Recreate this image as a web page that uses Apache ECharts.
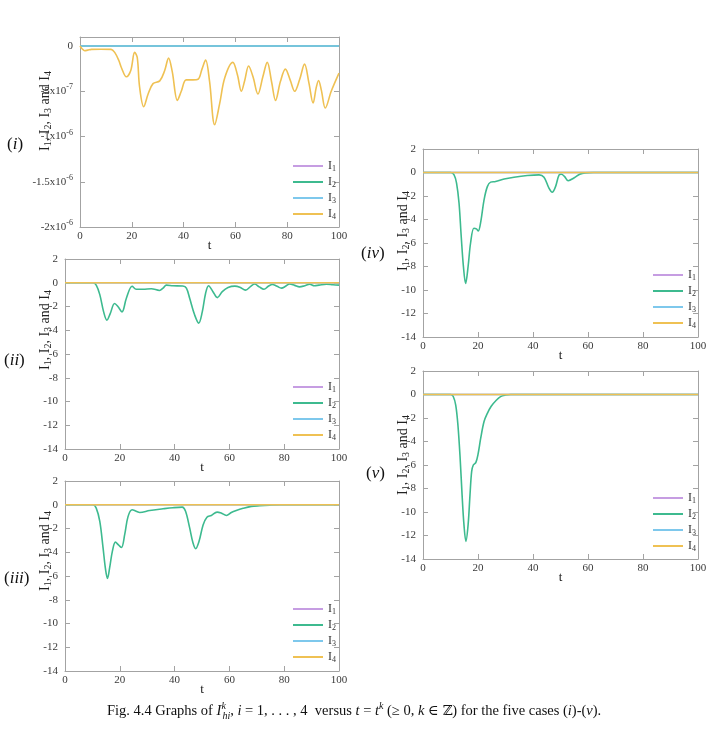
<!DOCTYPE html>
<html><head><meta charset="utf-8">
<script src="https://cdn.jsdelivr.net/npm/echarts@6/dist/echarts.min.js"></script>
<style>html,body{margin:0;padding:0;background:#fff}#c{width:714px;height:735px}</style>
</head><body><div id="c"></div>
<script>
// ---------- data ----------
const seriesNames = ['I1', 'I2', 'I3', 'I4'];
const xTicks = [0, 20, 40, 60, 80, 100];
const zeroT = [0, 100];
const zeroV = [0, 0];

// case (i): I4 (I1, I2, I3 stay at 0)
const case1T = [0, 0.8, 1.8, 3, 4.4, 8, 12, 13.4, 15, 16, 17.9, 19.6, 21.1, 22.1, 23, 24.6, 26.3, 28.2, 30.8, 32.7, 34.2, 35.6, 37.6, 39.1, 41, 43.6, 45.6, 47.1, 48.5, 50, 52, 53.9, 55.9, 59, 60.8, 62.3, 63.6, 65.1, 66.8, 68.7, 70.6, 72.3, 74, 75.5, 77.4, 79.3, 81.2, 82.9, 84.8, 86.7, 88.4, 90, 91.2, 92.1, 93.2, 94.7, 97, 100];
const case1I4 = [0, -0.3e-7, -0.52e-7, -0.45e-7, -0.37e-7, -0.35e-7, -0.37e-7, -0.7e-7, -1.6e-7, -2.4e-7, -3.4e-7, -2.7e-7, -0.7e-7, -1.26e-7, -4.5e-7, -6.7e-7, -5.3e-7, -4.15e-7, -3.85e-7, -2.7e-7, -1.33e-7, -2.8e-7, -6.0e-7, -5.0e-7, -3.74e-7, -3.74e-7, -3.67e-7, -2.55e-7, -1.55e-7, -3.85e-7, -8.7e-7, -6.4e-7, -3.5e-7, -1.8e-7, -3.2e-7, -5.0e-7, -3.8e-7, -2.2e-7, -3.4e-7, -5.3e-7, -3.4e-7, -1.8e-7, -4.0e-7, -6.0e-7, -3.9e-7, -2.55e-7, -3.8e-7, -5.0e-7, -3.7e-7, -2.0e-7, -4.1e-7, -6.3e-7, -4.6e-7, -3.8e-7, -4.9e-7, -6.85e-7, -5.0e-7, -3.0e-7];

// case (ii): I2
const case2T = [0, 10.2, 11.4, 12.7, 14.1, 15.3, 16.5, 18.1, 19.3, 20.8, 22.4, 24.5, 26, 28.5, 31.5, 34.5, 35.8, 37, 39.4, 43, 44.3, 45.5, 47.3, 48.8, 50.1, 51.3, 52.4, 54, 55.6, 57.4, 59.5, 62, 63.8, 65.9, 67.8, 69.2, 70.9, 72.6, 74.2, 75.7, 77.4, 79, 80.5, 82, 83.8, 85.6, 87.5, 89.3, 91, 92.7, 95.4, 97.8, 100];
const case2I2 = [0, 0, -0.2, -1.0, -2.45, -3.15, -2.6, -1.75, -2.0, -2.45, -1.3, -0.3, -0.55, -0.55, -0.5, -0.65, -0.45, -0.2, -0.25, -0.28, -0.45, -1.3, -2.7, -3.4, -2.45, -0.9, -0.25, -0.75, -1.25, -0.75, -0.4, -0.28, -0.37, -0.62, -0.3, -0.1, -0.35, -0.55, -0.3, -0.15, -0.3, -0.45, -0.3, -0.1, -0.22, -0.35, -0.25, -0.12, -0.25, -0.2, -0.12, -0.17, -0.2];

// case (iii): I2
const case3T = [0, 10.2, 11.4, 12.7, 13.9, 14.8, 15.5, 16.3, 17.3, 18.4, 19.6, 20.6, 21.8, 23, 24.5, 26, 27.3, 30.9, 35.8, 39.4, 42.8, 44, 45.5, 46.7, 47.7, 48.9, 50.4, 51.8, 53.4, 55.5, 57, 58.9, 60.7, 62.5, 65, 68, 71, 74.7, 78.3, 100];
const case3I2 = [0, 0, -0.28, -1.4, -3.65, -5.45, -6.2, -5.3, -3.9, -3.15, -3.4, -3.6, -2.5, -1.0, -0.42, -0.55, -0.65, -0.48, -0.34, -0.25, -0.2, -0.55, -1.95, -3.2, -3.7, -3.1, -1.7, -1.05, -0.9, -0.62, -0.7, -0.9, -0.65, -0.48, -0.3, -0.14, -0.08, -0.03, 0, 0];

// case (iv): I2
const case4T = [0, 10.1, 11.3, 12.2, 13.1, 13.9, 14.7, 15.5, 16.4, 17.3, 18.5, 19.4, 20.1, 21, 22.2, 23.4, 24.6, 26.4, 29.5, 33.1, 37.9, 42.2, 44, 45.8, 47, 48.2, 49.5, 50.3, 51.5, 52.8, 55, 57, 59, 62, 100];
const case4I2 = [0, 0, -0.2, -0.9, -2.6, -5.45, -8.0, -9.45, -8.0, -6.0, -4.75, -4.8, -4.97, -4.2, -2.33, -1.2, -0.82, -0.77, -0.55, -0.4, -0.26, -0.2, -0.4, -1.33, -1.68, -1.2, -0.2, -0.15, -0.35, -0.7, -0.45, -0.15, -0.03, 0, 0];

// case (v): I2
const case5T = [0, 10.1, 11, 11.9, 12.7, 13.5, 14.2, 14.9, 15.6, 16.4, 17.1, 17.7, 18.3, 19.2, 20, 21, 22.2, 23.4, 24.8, 26.4, 28.2, 30, 31.9, 100];
const case5I2 = [0, 0, -0.17, -0.9, -2.6, -5.4, -8.5, -11.1, -12.5, -11.1, -8.5, -6.55, -6.0, -5.8, -5.1, -3.7, -2.3, -1.6, -1.0, -0.55, -0.18, -0.05, 0, 0];

// tick labels for case (i)
const case1TickValues = [0, -5e-7, -1e-6, -1.5e-6, -2e-6];
const case1TickText = ['0', '-5x10{e|-7}', '-1x10{e|-6}', '-1.5x10{e|-6}', '-2x10{e|-6}'];

// ---------- styling ----------
const FONT = '"Liberation Serif","DejaVu Serif",serif';
const colors = {I1: '#c69de2', I2: '#3dba8f', I3: '#7ec8ec', I4: '#efc153'};
const FRAME = '#a3a3a3';
const TXT = '#3a3a3a';

function zip(t, v) { return t.map((x, i) => [x, v[i]]); }

const panels = [
  {grid: {left: 80, top: 37, width: 259, height: 190}, ymin: -2e-6, ymax: 1e-7, yint: 5e-7, sci: true,
   nameGap: 27, shift: 21, legend: {left: 293, top: 160},
   label: {it: 'i', left: 7, top: 136},
   data: {I1: [zeroT, zeroV], I2: [zeroT, zeroV], I3: [zeroT, zeroV], I4: [case1T, case1I4]}},
  {grid: {left: 65, top: 259, width: 274, height: 190}, ymin: -14, ymax: 2, yint: 2,
   nameGap: 12, shift: 24, legend: {left: 293, top: 381},
   label: {it: 'ii', left: 4, top: 352},
   data: {I1: [zeroT, zeroV], I2: [case2T, case2I2], I3: [zeroT, zeroV], I4: [zeroT, zeroV]}},
  {grid: {left: 65, top: 481, width: 274, height: 190}, ymin: -14, ymax: 2, yint: 2,
   nameGap: 12, shift: 25, legend: {left: 293, top: 603},
   label: {it: 'iii', left: 4, top: 570},
   data: {I1: [zeroT, zeroV], I2: [case3T, case3I2], I3: [zeroT, zeroV], I4: [zeroT, zeroV]}},
  {grid: {left: 423, top: 149, width: 275, height: 188}, ymin: -14, ymax: 2, yint: 2,
   nameGap: 12, shift: 12, legend: {left: 653, top: 269},
   label: {it: 'iv', left: 361, top: 245},
   data: {I1: [zeroT, zeroV], I2: [case4T, case4I2], I3: [zeroT, zeroV], I4: [zeroT, zeroV]}},
  {grid: {left: 423, top: 371, width: 275, height: 188}, ymin: -14, ymax: 2, yint: 2,
   nameGap: 12, shift: 10, legend: {left: 653, top: 492},
   label: {it: 'v', left: 366, top: 465},
   data: {I1: [zeroT, zeroV], I2: [case5T, case5I2], I3: [zeroT, zeroV], I4: [zeroT, zeroV]}}
];

const grids = [], xAxes = [], yAxes = [], series = [], legends = [], titles = [];
const richName = {
  i: {fontFamily: FONT, fontSize: 14, color: '#222', lineHeight: 16},
  c: {fontFamily: FONT, fontSize: 14, color: '#222', lineHeight: 16},
  s: {fontFamily: FONT, fontSize: 10, color: '#222', lineHeight: 10, verticalAlign: 'bottom'}
};
const yName = '{i|I}{s|1}{c|, }{i|I}{s|2}{c|, }{i|I}{s|3}{c| and }{i|I}{s|4}';

panels.forEach((p, k) => {
  grids.push(Object.assign({outerBoundsMode: 'none', containLabel: false}, p.grid));
  const lineCommon = {show: true, onZero: false, lineStyle: {color: FRAME, width: 1}};
  const tickCommon = {show: true, inside: true, length: 5, lineStyle: {color: FRAME, width: 1}};
  xAxes.push({gridIndex: k, type: 'value', min: 0, max: 100, interval: 20, position: 'bottom',
    axisLine: lineCommon, axisTick: tickCommon, splitLine: {show: false},
    axisLabel: {margin: 4, color: TXT, fontFamily: FONT, fontSize: 11},
    name: 't', nameLocation: 'middle', nameGap: 12, nameMoveOverlap: false,
    nameTextStyle: {fontFamily: FONT, fontSize: 13, color: '#222'}});
  xAxes.push({gridIndex: k, type: 'value', min: 0, max: 100, interval: 20, position: 'top',
    axisLine: lineCommon, axisTick: tickCommon, splitLine: {show: false}, axisLabel: {show: false}});
  const yLab = {margin: 7, color: TXT, fontFamily: FONT, fontSize: 11, showMaxLabel: !p.sci};
  if (p.sci) {
    yLab.lineHeight = 16;
    yLab.formatter = v => {
      let best = 0;
      case1TickValues.forEach((tv, i) => { if (Math.abs(tv - v) < Math.abs(case1TickValues[best] - v)) best = i; });
      return case1TickText[best];
    };
    yLab.rich = {e: {fontFamily: FONT, fontSize: 8, color: TXT, lineHeight: 8, verticalAlign: 'top'}};
  }
  yAxes.push({gridIndex: k, type: 'value', min: p.ymin, max: p.ymax, interval: p.yint, position: 'left',
    axisLine: lineCommon, axisTick: tickCommon, splitLine: {show: false}, axisLabel: yLab,
    name: yName, nameLocation: 'middle', nameGap: p.nameGap, nameRotate: 90, nameMoveOverlap: false,
    nameTextStyle: {fontFamily: FONT, fontSize: 14, color: '#222', padding: [0, 0, 0, 2 * p.shift], rich: richName}});
  yAxes.push({gridIndex: k, type: 'value', min: p.ymin, max: p.ymax, interval: p.yint, position: 'right',
    axisLine: lineCommon, axisTick: tickCommon, splitLine: {show: false}, axisLabel: {show: false}});
  seriesNames.forEach(n => {
    const d = p.data[n];
    series.push({name: n, type: 'line', xAxisIndex: 2 * k, yAxisIndex: 2 * k,
      data: zip(d[0], d[1]), symbol: 'none', showSymbol: false, smooth: 0.35,
      lineStyle: {color: colors[n], width: 1.6}, itemStyle: {color: colors[n]},
      silent: true, animation: false, z: 2});
  });
  legends.push({orient: 'vertical', left: p.legend.left, top: p.legend.top, itemWidth: 30, itemHeight: 2,
    icon: 'rect', itemGap: 3, padding: 0, selectedMode: false, data: seriesNames,
    formatter: n => '{i|I}{s|' + n.slice(1) + '}',
    textStyle: {rich: {
      i: {fontFamily: FONT, fontSize: 12, color: '#333', lineHeight: 14},
      s: {fontFamily: FONT, fontSize: 8, color: '#333', lineHeight: 8, verticalAlign: 'bottom'}}}});
  titles.push({text: '{p|(}{i|' + p.label.it + '}{p|)}', left: p.label.left, top: p.label.top, padding: 0,
    textStyle: {rich: {
      p: {fontFamily: FONT, fontSize: 17, color: '#111', fontWeight: 'normal'},
      i: {fontFamily: FONT, fontSize: 17, color: '#111', fontStyle: 'italic', fontWeight: 'normal'}}}});
});

// caption
const capRich = {
  r: {fontFamily: FONT, fontSize: 14.5, color: '#111', fontWeight: 'normal', lineHeight: 20},
  it: {fontFamily: FONT, fontSize: 14.5, color: '#111', fontStyle: 'italic', fontWeight: 'normal', lineHeight: 20},
  sup: {fontFamily: FONT, fontSize: 10, color: '#111', fontStyle: 'italic', fontWeight: 'normal', lineHeight: 10, verticalAlign: 'top', width: 1},
  sup2: {fontFamily: FONT, fontSize: 10, color: '#111', fontStyle: 'italic', fontWeight: 'normal', lineHeight: 10, verticalAlign: 'top'},
  sub: {fontFamily: FONT, fontSize: 10, color: '#111', fontStyle: 'italic', fontWeight: 'normal', lineHeight: 10, verticalAlign: 'bottom'},
  z: {fontFamily: '"DejaVu Serif",serif', fontSize: 13.5, color: '#111', fontWeight: 'normal', lineHeight: 20}
};
titles.push({
  text: '{r|Fig. 4.4 Graphs of }{it|I}{sup|k}{sub|hi}{r|, }{it|i}{r| = 1, . . . , 4  versus }{it|t}{r| = }{it|t}{sup2|k}{r| (≥ 0, }{it|k}{r| ∈ }{z|ℤ}{r|) for the five cases (}{it|i}{r|)-(}{it|v}{r|).}',
  left: 107, top: 701, padding: 0, textStyle: {rich: capRich}
});

const chart = echarts.init(document.getElementById('c'), null, {renderer: 'canvas'});
chart.setOption({
  animation: false,
  backgroundColor: '#fff',
  title: titles,
  grid: grids,
  xAxis: xAxes,
  yAxis: yAxes,
  legend: legends,
  series: series
});
</script>
</body></html>
